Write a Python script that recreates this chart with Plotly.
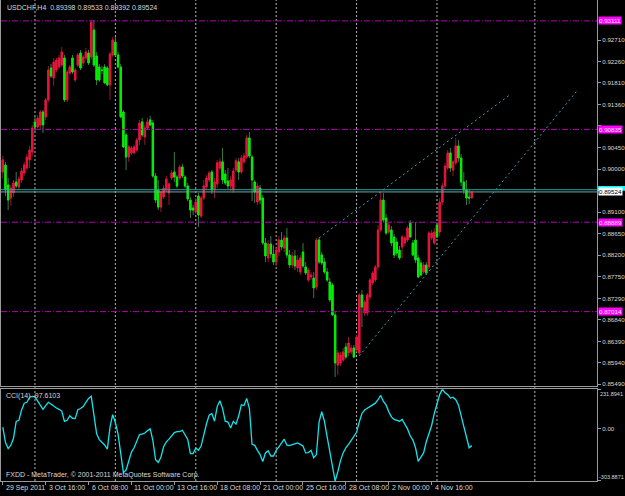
import plotly.graph_objects as go

# ---------------- data ----------------
bars = list(range(176))
opens = [0.89942,0.90089,0.89669,0.89396,0.89501,0.89732,0.89627,0.89774,0.89921,0.90026,
         0.90197,0.90362,0.90993,0.90886,0.90928,0.91200,0.91095,0.91454,0.92123,0.91913,
         0.92081,0.92144,0.92186,0.92333,0.91454,0.92018,0.92333,0.91873,0.92186,0.92438,
         0.92228,0.92333,0.92438,0.92354,0.92920,0.92375,0.92144,0.92081,0.92144,0.92123,
         0.91768,0.92396,0.92668,0.92396,0.92144,0.91200,0.90719,0.90257,0.90341,0.90341,
         0.90404,0.90614,0.90993,0.90677,0.90865,0.91035,0.90970,0.89858,0.89564,0.89207,
         0.89417,0.89564,0.89501,0.89816,0.89942,0.89837,0.89816,0.90047,0.89837,0.89648,
         0.89354,0.89186,0.89102,0.89438,0.89018,0.89396,0.89627,0.89774,0.89942,0.89564,
         0.89690,0.90026,0.90155,0.89900,0.89753,0.89648,0.89564,0.89984,0.90155,0.89942,
         0.90155,0.90257,0.90656,0.90257,0.89732,0.89312,0.89606,0.89396,0.88453,0.88138,
         0.88432,0.88222,0.88055,0.88264,0.88516,0.88348,0.88558,0.88201,0.87992,0.88180,
         0.87929,0.87845,0.88264,0.87950,0.87677,0.87740,0.87719,0.87530,0.88516,0.88201,
         0.88055,0.87845,0.87635,0.87572,0.86944,0.85895,0.85937,0.86000,0.86272,0.86147,
         0.86168,0.86251,0.86210,0.86147,0.87363,0.86986,0.86986,0.87321,0.87614,0.87677,
         0.87950,0.88726,0.89354,0.88976,0.88684,0.88726,0.88579,0.88474,0.88306,0.88369,
         0.88453,0.88516,0.88871,0.88453,0.88516,0.88138,0.88034,0.87845,0.87992,0.87950,
         0.88558,0.88453,0.88829,0.88684,0.89312,0.89648,0.90026,0.90341,0.89984,0.90134,
         0.90488,0.90236,0.89732,0.89564,0.89417,0.89398]
highs = [0.90278,0.90155,0.89816,0.89669,0.89774,0.89942,0.89858,0.90026,0.90155,0.90320,
         0.90488,0.90928,0.91116,0.91137,0.91242,0.91242,0.91494,0.92165,0.92207,0.92333,
         0.92333,0.92396,0.92563,0.92396,0.92081,0.92186,0.92396,0.92123,0.92438,0.92504,
         0.92396,0.92542,0.92504,0.93130,0.93130,0.92459,0.92207,0.92165,0.92207,0.92165,
         0.92459,0.92773,0.92773,0.92459,0.92207,0.91242,0.90760,0.90509,0.90488,0.90509,
         0.90656,0.91035,0.91074,0.90928,0.91074,0.91116,0.91035,0.89921,0.89774,0.89396,
         0.89669,0.89858,0.89732,0.89984,0.90362,0.89879,0.90089,0.90113,0.89879,0.89711,
         0.89417,0.89249,0.89396,0.89501,0.89438,0.89774,0.89879,0.89963,0.89984,0.89816,
         0.90197,0.90236,0.90446,0.89984,0.90026,0.89858,0.90026,0.90236,0.90236,0.90299,
         0.90341,0.90719,0.90781,0.90299,0.89774,0.89711,0.89669,0.89459,0.88558,0.88516,
         0.88600,0.88411,0.88348,0.88600,0.88684,0.88621,0.88766,0.88306,0.88264,0.88306,
         0.88201,0.88201,0.88453,0.88055,0.87929,0.87845,0.87845,0.88558,0.88558,0.88264,
         0.88138,0.87929,0.87719,0.87614,0.87007,0.86210,0.86168,0.86251,0.86356,0.86482,
         0.86314,0.86314,0.86524,0.87405,0.87468,0.87259,0.87405,0.87719,0.87866,0.87992,
         0.88829,0.89522,0.89501,0.89060,0.88892,0.88808,0.88642,0.88558,0.88390,0.88621,
         0.88600,0.88808,0.88934,0.88516,0.88892,0.88201,0.88097,0.88055,0.88055,0.88705,
         0.88726,0.88766,0.88892,0.89396,0.89711,0.90134,0.90404,0.90446,0.90197,0.90656,
         0.90614,0.90320,0.89942,0.89774,0.89564,0.89533]
lows = [0.89816,0.89438,0.89144,0.89228,0.89417,0.89606,0.89564,0.89711,0.89858,0.89984,
        0.90026,0.90278,0.90760,0.90865,0.90823,0.90760,0.91035,0.91410,0.91913,0.91747,
        0.92039,0.92102,0.92144,0.91410,0.91410,0.91976,0.91997,0.91831,0.92144,0.92081,
        0.92165,0.92291,0.92186,0.92291,0.92144,0.91768,0.91831,0.91997,0.91789,0.91747,
        0.91454,0.92354,0.92375,0.92123,0.91074,0.90446,0.89984,0.90155,0.90299,0.90320,
        0.90362,0.90509,0.90677,0.90509,0.90823,0.90907,0.89816,0.89291,0.89144,0.89102,
        0.89375,0.89522,0.89249,0.89774,0.89732,0.89606,0.89774,0.89816,0.89606,0.89333,
        0.88976,0.89039,0.89060,0.88787,0.88976,0.89354,0.89564,0.89732,0.89480,0.89396,
        0.89606,0.89984,0.89690,0.89669,0.89585,0.89543,0.89501,0.89942,0.89774,0.89900,
        0.90113,0.90215,0.90236,0.89333,0.89291,0.89249,0.89270,0.88411,0.88055,0.88055,
        0.88138,0.87992,0.87971,0.88180,0.88306,0.88264,0.88138,0.87929,0.87929,0.87887,
        0.87845,0.87782,0.87929,0.87782,0.87635,0.87677,0.87300,0.87468,0.88013,0.87992,
        0.87803,0.87635,0.87217,0.86923,0.85642,0.85685,0.85874,0.85958,0.86021,0.86084,
        0.86126,0.86042,0.86168,0.86105,0.86692,0.86923,0.86923,0.87259,0.87572,0.87635,
        0.87887,0.88684,0.88892,0.88621,0.88642,0.88390,0.88138,0.88180,0.88097,0.88138,
        0.88390,0.88474,0.88558,0.88180,0.88034,0.87719,0.87761,0.87803,0.87782,0.87908,
        0.88516,0.88411,0.88558,0.88600,0.89249,0.89564,0.89984,0.89942,0.89858,0.90089,
        0.90155,0.89648,0.89480,0.89249,0.89270,0.89392]
closes = [0.90197,0.89564,0.89354,0.89606,0.89711,0.89648,0.89795,0.89963,0.90089,0.90257,
          0.90404,0.90865,0.90886,0.91074,0.91200,0.90928,0.91454,0.92081,0.91955,0.92249,
          0.92291,0.92333,0.92459,0.91454,0.92039,0.92144,0.92039,0.92081,0.92396,0.92123,
          0.92354,0.92459,0.92228,0.93088,0.92186,0.91873,0.91873,0.92075,0.91810,0.91768,
          0.92417,0.92710,0.92396,0.92144,0.91095,0.90467,0.90257,0.90467,0.90446,0.90467,
          0.90614,0.90970,0.90719,0.90865,0.90993,0.90928,0.89858,0.89354,0.89207,0.89522,
          0.89606,0.89795,0.89690,0.89921,0.89837,0.89648,0.90047,0.89858,0.89648,0.89375,
          0.89144,0.89144,0.89312,0.89039,0.89396,0.89648,0.89816,0.89921,0.89564,0.89732,
          0.90134,0.90155,0.89774,0.89711,0.89648,0.89774,0.89963,0.90176,0.89942,0.90236,
          0.90278,0.90656,0.90278,0.89774,0.89522,0.89648,0.89354,0.88453,0.88180,0.88432,
          0.88222,0.88055,0.88306,0.88516,0.88369,0.88558,0.88201,0.87992,0.88180,0.87971,
          0.88097,0.88138,0.87971,0.87824,0.87887,0.87782,0.87509,0.88516,0.88055,0.88034,
          0.87845,0.87677,0.87259,0.86944,0.85937,0.86147,0.86105,0.86168,0.86063,0.86356,
          0.86251,0.86063,0.86482,0.87363,0.87112,0.87217,0.87363,0.87677,0.87824,0.87950,
          0.88726,0.89354,0.88934,0.88663,0.88829,0.88453,0.88201,0.88243,0.88138,0.88579,
          0.88558,0.88766,0.88579,0.88201,0.88097,0.87740,0.87782,0.87992,0.87824,0.88663,
          0.88663,0.88684,0.88579,0.89312,0.89648,0.90068,0.90341,0.90026,0.90155,0.90488,
          0.90236,0.89732,0.89564,0.89396,0.89398,0.89524]
cci = [10,-80,-115,-95,-55,44,50,110,150,155,
       185,190,187,162,134,114,136,155,145,132,
       122,114,104,44,50,77,62,60,112,119,
       130,155,178,190,87,-27,-63,-78,-94,-118,
       10,83,37,-30,-148,-255,-240,-185,-135,-110,
       -76,-33,-30,-24,-10,0,-68,-180,-195,-165,
       -104,-76,-60,-42,-22,-16,-16,-8,-37,-62,
       -144,-144,-112,-125,-100,-30,30,80,90,45,
       130,164,118,45,40,5,44,28,75,140,
       136,178,120,-90,-96,-125,-150,-190,-140,-128,
       -158,-158,-125,-105,-80,-60,-95,-97,-92,-87,
       -82,-90,-100,-140,-138,-125,-168,-150,40,100,
       45,-45,-130,-210,-303.8871,-250,-185,-140,-110,-90,
       -67,-40,-20,40,90,110,120,130,140,150,
       170,195,160,140,100,70,55,50,45,55,
       30,0,-40,-65,-110,-189,-165,-140,-75,-30,
       20,90,150,200,231.8941,210,200,180,185,170,
       140,80,20,-40,-110,-97.6103]

time_label_bars = [0, 16, 32, 48, 64, 80, 96, 112, 128, 144, 160]
time_labels = ["29 Sep 2011", "3 Oct 16:00", "6 Oct 08:00", "11 Oct 00:00", "13 Oct 16:00",
               "18 Oct 08:00", "21 Oct 00:00", "25 Oct 16:00", "28 Oct 08:00",
               "2 Nov 00:00", "4 Nov 16:00"]
price_ticks = [0.92710, 0.92260, 0.91810, 0.91360, 0.90910, 0.90450, 0.90000, 0.89550,
               0.89100, 0.88650, 0.88200, 0.87750, 0.87290, 0.86840, 0.86390, 0.85940, 0.85490]
hidden_ticks = [0.90910, 0.89550]   # covered by the line labels in the reference
magenta_levels = [0.93111, 0.90835, 0.88889, 0.87014]
ask_level = 0.89570
cci_min, cci_max = -303.8871, 231.8941
week_grid_bars = [12, 42, 72, 102, 132, 162, 198.5]
upper_channel_x = [118.0, 189.6]
upper_channel_y = [0.88558, 0.91578]
lower_channel_x = [133.0, 214.5]
lower_channel_y = [0.86084, 0.91662]

# ---------------- styles ----------------
UP_BODY, UP_WICK = "#E8143C", "#8E1A30"
DN_BODY, DN_WICK = "#00F000", "#3C7A4C"
AXIS = "#9A9A9A"
TXT = "#D8D8D8"
FONT = "Liberation Sans"
FS = 7       # chart texts
FS_AX = 6.2  # right-hand scale texts

fig = go.Figure()

fig.add_trace(go.Candlestick(
    x=bars, open=opens, high=highs, low=lows, close=closes,
    increasing=dict(line=dict(color=UP_WICK, width=1), fillcolor=UP_BODY),
    decreasing=dict(line=dict(color=DN_WICK, width=1), fillcolor=DN_BODY),
    whiskerwidth=0, showlegend=False, hoverinfo="skip", xaxis="x", yaxis="y"))
body_hi = [max(o, c) for o, c in zip(opens, closes)]
body_lo = [min(o, c) for o, c in zip(opens, closes)]
fig.add_trace(go.Candlestick(
    x=bars, open=opens, high=body_hi, low=body_lo, close=closes,
    increasing=dict(line=dict(color=UP_BODY, width=1), fillcolor=UP_BODY),
    decreasing=dict(line=dict(color=DN_BODY, width=1), fillcolor=DN_BODY),
    whiskerwidth=0, showlegend=False, hoverinfo="skip", xaxis="x", yaxis="y"))

for xs, ys in [(upper_channel_x, upper_channel_y), (lower_channel_x, lower_channel_y)]:
    fig.add_trace(go.Scatter(x=xs, y=ys, mode="lines", showlegend=False, hoverinfo="skip",
                             line=dict(color="#3A9CB8", width=1, dash="2px,3px"),
                             xaxis="x", yaxis="y"))

fig.add_trace(go.Scatter(x=bars, y=cci, mode="lines", showlegend=False, hoverinfo="skip",
                         line=dict(color="#12E4EE", width=1.3), xaxis="x2", yaxis="y2"))

shapes = []
for b in week_grid_bars:
    shapes.append(dict(type="line", xref="x", yref="paper", x0=b, x1=b, y0=0, y1=1,
                       line=dict(color="#B4B4B4", width=1, dash="2px,2px"), layer="below"))
for lv in magenta_levels:
    shapes.append(dict(type="line", xref="paper", yref="y", x0=0, x1=1, y0=lv, y1=lv,
                       line=dict(color="#B400B4", width=1, dash="6px,2px,1px,2px")))
shapes.append(dict(type="line", xref="paper", yref="y", x0=0, x1=1, y0=ask_level, y1=ask_level,
                   line=dict(color="#24A8A8", width=1)))
shapes.append(dict(type="line", xref="paper", yref="y", x0=0, x1=1, y0=closes[-1], y1=closes[-1],
                   line=dict(color="#6FA5A5", width=1)))
# ask-price box on the axis (its text is hidden under the bid label in the reference)
shapes.append(dict(type="rect", xref="paper", yref="y", x0=1.002, x1=1.06,
                   y0=ask_level - 0.0002, y1=ask_level + 0.0008,
                   fillcolor="#00FFFF", line=dict(width=0)))

annotations = []
for b, t in zip(time_label_bars, time_labels):
    annotations.append(dict(x=b, xref="x2", y=0, yref="paper", text=t, showarrow=False,
                            xanchor="left", yanchor="top", xshift=1, yshift=-1,
                            font=dict(family=FONT, size=FS, color=TXT)))
for lv in magenta_levels:
    annotations.append(dict(x=1, xref="paper", y=lv, yref="y", text=f"{lv:.5f}", showarrow=False,
                            xanchor="left", yanchor="middle", xshift=1, bgcolor="#FF00FF",
                            borderpad=0, font=dict(family=FONT, size=FS_AX, color="#FFE8FF")))
annotations.append(dict(x=1, xref="paper", y=closes[-1], yref="y", text=f"{closes[-1]:.5f}",
                        showarrow=False, xanchor="left", yanchor="middle", xshift=1,
                        bgcolor="white", borderpad=0, font=dict(family=FONT, size=FS_AX, color="black")))
# CCI scale extremes: placed inside the panel's height like MetaTrader does
annotations.append(dict(x=1, xref="paper", y=cci_max, yref="y2", text=f"{cci_max:.4f}",
                        showarrow=False, xanchor="left", yanchor="top", xshift=1, yshift=0,
                        font=dict(family=FONT, size=5.5, color=TXT)))
annotations.append(dict(x=1, xref="paper", y=cci_min, yref="y2", text=f"{cci_min:.4f}",
                        showarrow=False, xanchor="left", yanchor="bottom", xshift=0, yshift=-1,
                        font=dict(family=FONT, size=5.5, color=TXT)))
annotations.append(dict(x=0, xref="paper", y=1, yref="paper", xanchor="left", yanchor="top",
                        xshift=4, yshift=-2, showarrow=False,
                        text=f"USDCHF,H4  {opens[-1]:.5f} {highs[-1]:.5f} {lows[-1]:.5f} {closes[-1]:.5f}",
                        font=dict(family=FONT, size=FS, color=TXT)))
annotations.append(dict(x=0, xref="paper", y=0.191, yref="paper", xanchor="left", yanchor="top",
                        xshift=3, yshift=-1, showarrow=False, text=f"CCI(14) {cci[-1]:.4f}",
                        font=dict(family=FONT, size=FS, color=TXT)))
annotations.append(dict(x=0, xref="paper", y=0, yref="paper", xanchor="left", yanchor="bottom",
                        xshift=3, yshift=0, showarrow=False,
                        text="FXDD - MetaTrader, © 2001-2011 MetaQuotes Software Corp.",
                        font=dict(family=FONT, size=FS, color=TXT)))

xr = [-0.67, 221.7]
fig.update_layout(
    width=625, height=496,
    margin=dict(l=1, r=28, t=0, b=15, autoexpand=False),
    paper_bgcolor="black", plot_bgcolor="black",
    boxgap=0.5, boxgroupgap=0,
    hovermode=False,
    shapes=shapes, annotations=annotations,
    xaxis=dict(domain=[0, 1], range=xr, anchor="y", showline=True, linecolor=AXIS,
               showticklabels=False, showgrid=False, zeroline=False, ticks="",
               automargin=False, rangeslider=dict(visible=False)),
    yaxis=dict(domain=[0.1975, 1], range=[0.85454, 0.93549], side="right", anchor="x",
               tickvals=price_ticks,
               ticktext=["" if v in hidden_ticks else f"{v:.5f}" for v in price_ticks],
               ticks="outside", ticklen=3, tickcolor=AXIS, showline=True, linecolor=AXIS,
               mirror=True, showgrid=False, zeroline=False, automargin=False,
               tickfont=dict(family=FONT, size=FS_AX, color=TXT)),
    xaxis2=dict(domain=[0, 1], range=xr, anchor="y2", matches="x", showline=True, linecolor=AXIS,
                mirror=True, tickvals=time_label_bars, ticks="outside", ticklen=3, tickcolor=AXIS,
                showticklabels=False, showgrid=False, zeroline=False, automargin=False),
    yaxis2=dict(domain=[0, 0.191], range=[cci_min, cci_max], side="right", anchor="x2",
                tickvals=[cci_min, 0, cci_max], ticktext=["", "0.00", ""],
                ticks="outside", ticklen=3, tickcolor=AXIS, showline=True, linecolor=AXIS,
                mirror=True, showgrid=False, zeroline=False, automargin=False,
                tickfont=dict(family=FONT, size=FS_AX, color=TXT)),
)

fig.write_html("out.html")
